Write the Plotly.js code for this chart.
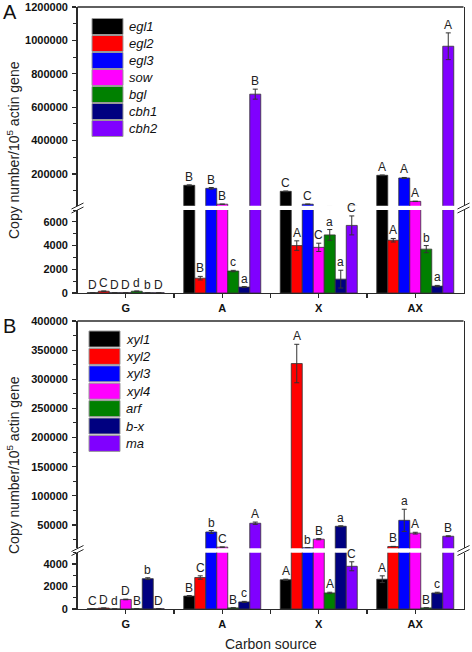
<!DOCTYPE html>
<html><head><meta charset="utf-8">
<script src="https://cdn.plot.ly/plotly-3.0.1.min.js"></script>
<style>html,body{margin:0;padding:0;background:#fff}#chart{width:472px;height:652px}</style>
</head><body><div id="chart"></div>
<script>
// ---------- DATA ----------
const categories = ['G', 'A', 'X', 'AX'];

// Panel A
const seriesA = ['egl1', 'egl2', 'egl3', 'sow', 'bgl', 'cbh1', 'cbh2'];
const egl1 = [30, 132000, 96000, 192000];
const egl2 = [150, 1250, 4000, 4450];
const egl3 = [30, 114000, 19000, 176000];
const sow  = [30, 19000, 3850, 36000];
const bgl  = [150, 1850, 4900, 3700];
const cbh1 = [20, 500, 1170, 580];
const cbh2 = [20, 678000, 5700, 965000];
const egl1Err = [5, 3000, 2000, 2000];
const egl2Err = [20, 150, 400, 150];
const egl3Err = [5, 5000, 500, 3000];
const sowErr  = [5, 300, 350, 1000];
const bglErr  = [20, 60, 450, 300];
const cbh1Err = [5, 40, 750, 60];
const cbh2Err = [5, 30000, 800, 80000];
const egl1Let = ['D', 'B', 'C', 'A'];
const egl2Let = ['C', 'B', 'A', 'A'];
const egl3Let = ['D', 'B', 'C', 'A'];
const sowLet  = ['D', 'B', 'C', 'A'];
const bglLet  = ['d', 'c', 'a', 'b'];
const cbh1Let = ['b', 'a', 'a', 'a'];
const cbh2Let = ['D', 'B', 'C', 'A'];

// Panel B
const seriesB = ['xyl1', 'xyl2', 'xyl3', 'xyl4', 'arf', 'b-x', 'ma'];
const xyl1 = [30, 1150, 2600, 2650];
const xyl2 = [80, 2800, 327000, 13000];
const xyl3 = [10, 38000, 11000, 58000];
const xyl4 = [850, 12000, 25600, 36000];
const arf  = [20, 100, 1430, 100];
const bx   = [2700, 630, 47800, 1430];
const ma   = [20, 53000, 3800, 30700];
const xyl1Err = [5, 50, 50, 300];
const xyl2Err = [10, 150, 33000, 300];
const xyl3Err = [2, 2500, 200, 19000];
const xyl4Err = [30, 200, 1000, 1500];
const arfErr  = [5, 10, 60, 10];
const bxErr   = [80, 50, 800, 60];
const maErr   = [5, 2000, 400, 800];
const xyl1Let = ['C', 'B', 'A', 'A'];
const xyl2Let = ['D', 'C', 'A', 'B'];
const xyl3Let = ['d', 'b', 'b', 'a'];
const xyl4Let = ['D', 'C', 'B', 'A'];
const arfLet  = ['B', 'B', 'A', 'B'];
const bxLet   = ['b', 'c', 'a', 'c'];
const maLet   = ['D', 'A', 'C', 'B'];

const seriesColors = ['#000000', '#ff0000', '#0000ff', '#ff00ff', '#008000', '#000080', '#8000ff'];

// ---------- LAYOUT HELPERS ----------
const W = 472, H = 652;
const fx = p => p / W;
const fy = p => 1 - p / H;
const FONT = 'Liberation Sans, Arial, sans-serif';
const AX_COL = '#2a2a2a';
const BW = 0.114;

const traces = [];
const annotations = [];
const shapes = [];

function buildPanel(cfg) {
  cfg.values.forEach((vals, i) => {
    const xs = categories.map((c, j) => j + (i - 3) * BW);
    [cfg.yLow, cfg.yUp].forEach(ya => {
      traces.push({
        type: 'bar', x: xs, y: vals, width: BW,
        xaxis: cfg.xa, yaxis: ya, showlegend: false, hoverinfo: 'skip',
        marker: { color: seriesColors[i], line: { color: '#333', width: 0.8 } },
        error_y: { type: 'data', array: cfg.errs[i], visible: true, color: '#333', thickness: 1, width: 2.5 }
      });
    });
    vals.forEach((v, j) => {
      const onUp = v > cfg.lowMax;
      annotations.push({
        xref: cfg.xa, yref: onUp ? cfg.yUp : cfg.yLow,
        x: xs[j], y: v + cfg.errs[i][j], text: cfg.letters[i][j],
        showarrow: false, xanchor: 'center', yanchor: 'bottom', yshift: -1,
        font: { family: FONT, size: 12, color: '#222' }
      });
    });
    // legend swatch
    const ly = cfg.legY + cfg.legStep * i;
    shapes.push({
      type: 'rect', xref: 'paper', yref: 'paper',
      x0: fx(cfg.legX), x1: fx(cfg.legX + 31), y0: fy(ly + 16), y1: fy(ly),
      fillcolor: seriesColors[i], line: { color: '#999', width: 1 }
    });
    annotations.push({
      xref: 'paper', yref: 'paper', x: fx(cfg.legX + 35), y: fy(ly + 8),
      xanchor: 'left', yanchor: 'middle', showarrow: false,
      text: '<i>' + cfg.names[i] + '</i>',
      font: { family: FONT, size: 13, color: '#111' }
    });
  });
  // top frame line
  shapes.push({ type: 'line', xref: 'paper', yref: 'paper',
    x0: fx(77.5), x1: fx(463.5), y0: fy(cfg.top), y1: fy(cfg.top),
    line: { color: AX_COL, width: 1.4 } });
  // break marks
  [77.5, 463.5].forEach(bxp => {
    [-2, 2].forEach(off => {
      shapes.push({ type: 'line', xref: 'paper', yref: 'paper',
        x0: fx(bxp - 6), x1: fx(bxp + 6),
        y0: fy(cfg.brk + off + 3), y1: fy(cfg.brk + off - 3),
        line: { color: AX_COL, width: 1 } });
    });
  });
  // y title
  annotations.push({
    xref: 'paper', yref: 'paper', x: fx(13), y: fy(cfg.titleY),
    xanchor: 'center', yanchor: 'middle', showarrow: false, textangle: -90,
    text: 'Copy number/10<sup>5</sup> actin gene',
    font: { family: FONT, size: 14, color: '#222' }
  });
  // panel letter
  annotations.push({
    xref: 'paper', yref: 'paper', x: fx(1), y: fy(cfg.labelY),
    xanchor: 'left', yanchor: 'middle', showarrow: false,
    text: cfg.label, font: { family: FONT, size: 20, color: '#111' }
  });
}

buildPanel({
  xa: 'x', yLow: 'y', yUp: 'y2', lowMax: 7000,
  names: seriesA,
  values: [egl1, egl2, egl3, sow, bgl, cbh1, cbh2],
  errs: [egl1Err, egl2Err, egl3Err, sowErr, bglErr, cbh1Err, cbh2Err],
  letters: [egl1Let, egl2Let, egl3Let, sowLet, bglLet, cbh1Let, cbh2Let],
  legX: 92, legY: 18.5, legStep: 17, top: 7, brk: 208, titleY: 150, label: 'A', labelY: 12
});
buildPanel({
  xa: 'x2', yLow: 'y3', yUp: 'y4', lowMax: 5000,
  names: seriesB,
  values: [xyl1, xyl2, xyl3, xyl4, arf, bx, ma],
  errs: [xyl1Err, xyl2Err, xyl3Err, xyl4Err, arfErr, bxErr, maErr],
  letters: [xyl1Let, xyl2Let, xyl3Let, xyl4Let, arfLet, bxLet, maLet],
  legX: 89, legY: 331, legStep: 17.4, top: 321, brk: 550.5, titleY: 465, label: 'B', labelY: 326
});

annotations.push({
  xref: 'paper', yref: 'paper', x: fx(270.5), y: fy(644),
  xanchor: 'center', yanchor: 'middle', showarrow: false,
  text: 'Carbon source', font: { family: FONT, size: 14, color: '#222' }
});

const tickFont = { family: FONT, size: 11, color: '#111', weight: 'bold' };
function xAxis(anchor) {
  return {
    domain: [fx(77.5), fx(463.5)], anchor: anchor, range: [-0.5, 3.5],
    tickmode: 'array', tickvals: categories.map((c, j) => j), ticktext: categories,
    ticks: 'outside', ticklen: 4, tickwidth: 1.2, tickcolor: AX_COL,
    showline: true, linecolor: AX_COL, linewidth: 1.4, showgrid: false, zeroline: false,
    tickfont: tickFont,
    minor: { tickmode: 'array', tickvals: [0.5, 1.5, 2.5], ticks: 'outside', ticklen: 4, tickcolor: AX_COL, tickwidth: 1.2 },
    fixedrange: true
  };
}
function yAxis(anchor, dom, range, dtick, minorD) {
  return {
    domain: dom, anchor: anchor, range: range, dtick: dtick, tick0: 0,
    ticks: 'outside', ticklen: 4, tickwidth: 1.2, tickcolor: AX_COL,
    showline: true, mirror: true, linecolor: AX_COL, linewidth: 1.4,
    showgrid: false, zeroline: false, exponentformat: 'none', tickformat: 'd',
    tickfont: tickFont, ticklabelstandoff: 2,
    minor: { dtick: minorD, tick0: 0, ticks: 'outside', ticklen: 3, tickcolor: AX_COL, tickwidth: 1 },
    fixedrange: true
  };
}

const layout = {
  width: W, height: H, margin: { l: 0, r: 0, t: 0, b: 0 },
  paper_bgcolor: '#fff', plot_bgcolor: 'rgba(0,0,0,0)',
  barmode: 'overlay', hovermode: false, showlegend: false,
  xaxis: xAxis('y'),
  yaxis: yAxis('x', [fy(293), fy(210)], [0, 7000], 2000, 1000),
  yaxis2: yAxis('x', [fy(205.7), fy(7)], [10000, 1200000], 200000, 100000),
  xaxis2: xAxis('y3'),
  yaxis3: yAxis('x2', [fy(609), fy(552.8)], [0, 5000], 2000, 1000),
  yaxis4: yAxis('x2', [fy(548.3), fy(321)], [10000, 400000], 50000, 25000),
  annotations: annotations, shapes: shapes
};

Plotly.newPlot('chart', traces, layout, { staticPlot: true, displayModeBar: false });
</script></body></html>
